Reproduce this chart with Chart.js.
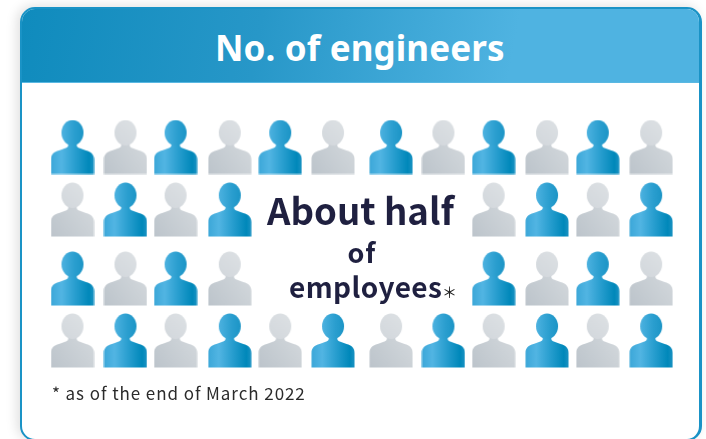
<!DOCTYPE html>
<html>
<head>
<meta charset="utf-8">
<title>No. of engineers</title>
<script src="https://cdn.jsdelivr.net/npm/chart.js@4/dist/chart.umd.min.js"></script>
<style>
  html, body { margin: 0; padding: 0; background: #fff; overflow: hidden; }
  #page { position: relative; width: 706px; height: 439px; overflow: hidden; }
  #card {
    position: absolute; left: 20px; top: 7px; width: 682px; height: 434px;
    box-sizing: border-box; background: #fff;
    border: 2px solid #1a93c6; border-right-width: 3.5px; border-radius: 15px;
    box-shadow: -3px -1px 12px rgba(0, 0, 0, 0.13);
    overflow: hidden;
  }
  #head {
    position: absolute; left: -2px; top: -2px; right: -4px; height: 75px;
    background: linear-gradient(100deg, #0f8bbd 0%, #2797c8 35%, #4fb3e1 72%, #4fb3e1 100%);
    border-bottom: 1.5px solid #5ab8e2;
  }
  #title {
    position: absolute; left: 215px; top: 24px;
    font: 700 35px "Noto Sans", sans-serif; color: #fff; white-space: nowrap;
    line-height: 48px; letter-spacing: 0.12px;
  }
  #chartBox { position: absolute; left: 0; top: 0; width: 706px; height: 439px; }
  .note {
    position: absolute; white-space: nowrap; color: #1f2040;
    font-family: "Noto Sans CJK JP", "Noto Sans", sans-serif; font-weight: 700;
  }
  #about { left: 267px; top: 185px; font-size: 36.6px; line-height: 50px; }
  #of { left: 347.5px; top: 234px; font-size: 27px; line-height: 36px; letter-spacing: 1px; }
  #emp { left: 289px; top: 268px; font-size: 28px; line-height: 36px; letter-spacing: 0.4px; }
  #star { left: 442px; top: 281px; font-size: 15px; line-height: 22px; font-weight: 400; color: #222; }
  #foot {
    left: 52px; top: 381px; font-size: 17px; line-height: 24px; font-weight: 400;
    color: #2b2b2b; letter-spacing: 0.93px;
  }
</style>
</head>
<body>
<div id="page">
  <div id="card"><div id="head"></div></div>
  <div id="title">No. of engineers</div>
  <div id="chartBox"><canvas id="chart" width="706" height="439"></canvas></div>
  <div class="note" id="about">About half</div>
  <div class="note" id="of">of</div>
  <div class="note" id="emp">employees</div>
  <div class="note" id="star">＊</div>
  <div class="note" id="foot">* as of the end of March 2022</div>
</div>

<script>
// seats per row, 1 = engineer, 0 = other employee, null = no seat (text goes there)
const columns = [0, 1, 2, 3, 4, 5, 6, 7, 8, 9, 10, 11];
const rowLabels = ["row 1", "row 2", "row 3", "row 4"];
const row1 = [1, 0, 1, 0, 1, 0, 1, 0, 1, 0, 1, 0];
const row2 = [0, 1, 0, 1, null, null, null, null, 0, 1, 0, 1];
const row3 = [1, 0, 1, 0, null, null, null, null, 1, 0, 1, 0];
const row4 = [0, 1, 0, 1, 0, 1, 0, 1, 0, 1, 0, 1];
const seatRows = [row1, row2, row3, row4];

// the icons are not on a perfectly even grid, small shifts in axis units
const colShift = [0, 0.013, -0.03, 0.006, -0.03, -0.02, 0.09, 0.09, 0.05, 0.07, 0.04, 0.06];
const rowShift = [0, -0.031, 0.039, 0];

function seats(kind) {
  const pts = [];
  seatRows.forEach((row, r) => {
    row.forEach((v, c) => {
      if (v === kind) pts.push({ x: columns[c] + colShift[c], y: r + rowShift[r] });
    });
  });
  return pts;
}

// person icon on a small canvas, used as pointStyle
function personIcon(fill, headFill) {
  const c = document.createElement("canvas");
  c.width = 44;
  c.height = 55;
  const g = c.getContext("2d");
  g.fillStyle = fill(g);
  g.beginPath();
  g.moveTo(0.5, 54.5);
  g.lineTo(0.5, 40);
  g.bezierCurveTo(0.5, 34.5, 3.5, 32.6, 8.5, 31);
  g.lineTo(16, 28.3);
  g.bezierCurveTo(17.8, 27.5, 18, 26, 17.5, 24);
  g.lineTo(26.5, 24);
  g.bezierCurveTo(26, 26, 26.2, 27.5, 28, 28.3);
  g.lineTo(35.5, 31);
  g.bezierCurveTo(40.5, 32.6, 43.5, 34.5, 43.5, 40);
  g.lineTo(43.5, 54.5);
  g.closePath();
  g.fill();
  g.fillStyle = headFill(g);
  g.beginPath();
  g.ellipse(22, 13.2, 11, 12.7, 0, 0, Math.PI * 2);
  g.fill();
  return c;
}

function blueFill(g) {
  const f = g.createLinearGradient(0, 0, 44, 0);
  f.addColorStop(0, "#3ba7d8");
  f.addColorStop(0.25, "#52b5e3");
  f.addColorStop(0.55, "#2a9fd0");
  f.addColorStop(0.88, "#0088ba");
  f.addColorStop(1, "#1f94c4");
  return f;
}
function blueHead(g) {
  const f = g.createLinearGradient(11, 0, 33, 0);
  f.addColorStop(0, "#4db2e0");
  f.addColorStop(0.6, "#2a9ecf");
  f.addColorStop(1, "#1c95c6");
  return f;
}
function greyFill(g) {
  const f = g.createLinearGradient(0, 55, 44, 26);
  f.addColorStop(0, "#bcc4cb");
  f.addColorStop(1, "#d3d8dc");
  return f;
}
function greyHead(g) {
  const f = g.createLinearGradient(11, 26, 33, 0);
  f.addColorStop(0, "#d2d7dc");
  f.addColorStop(1, "#dde1e4");
  return f;
}

new Chart(document.getElementById("chart").getContext("2d"), {
  type: "scatter",
  data: {
    datasets: [
      { label: "Engineers", data: seats(1), pointStyle: personIcon(blueFill, blueHead), pointRadius: 22, pointHoverRadius: 22, clip: false },
      { label: "Other employees", data: seats(0), pointStyle: personIcon(greyFill, greyHead), pointRadius: 22, pointHoverRadius: 22, clip: false }
    ]
  },
  options: {
    responsive: false,
    animation: false,
    layout: { padding: { left: 72.5, right: 58, top: 147, bottom: 98.5 } },
    plugins: { legend: { display: false }, tooltip: { enabled: false }, title: { display: false } },
    scales: {
      x: { type: "linear", display: false, min: 0, max: 11 },
      y: { type: "linear", display: false, min: 0, max: rowLabels.length - 1, reverse: true }
    }
  }
});
</script>
</body>
</html>
